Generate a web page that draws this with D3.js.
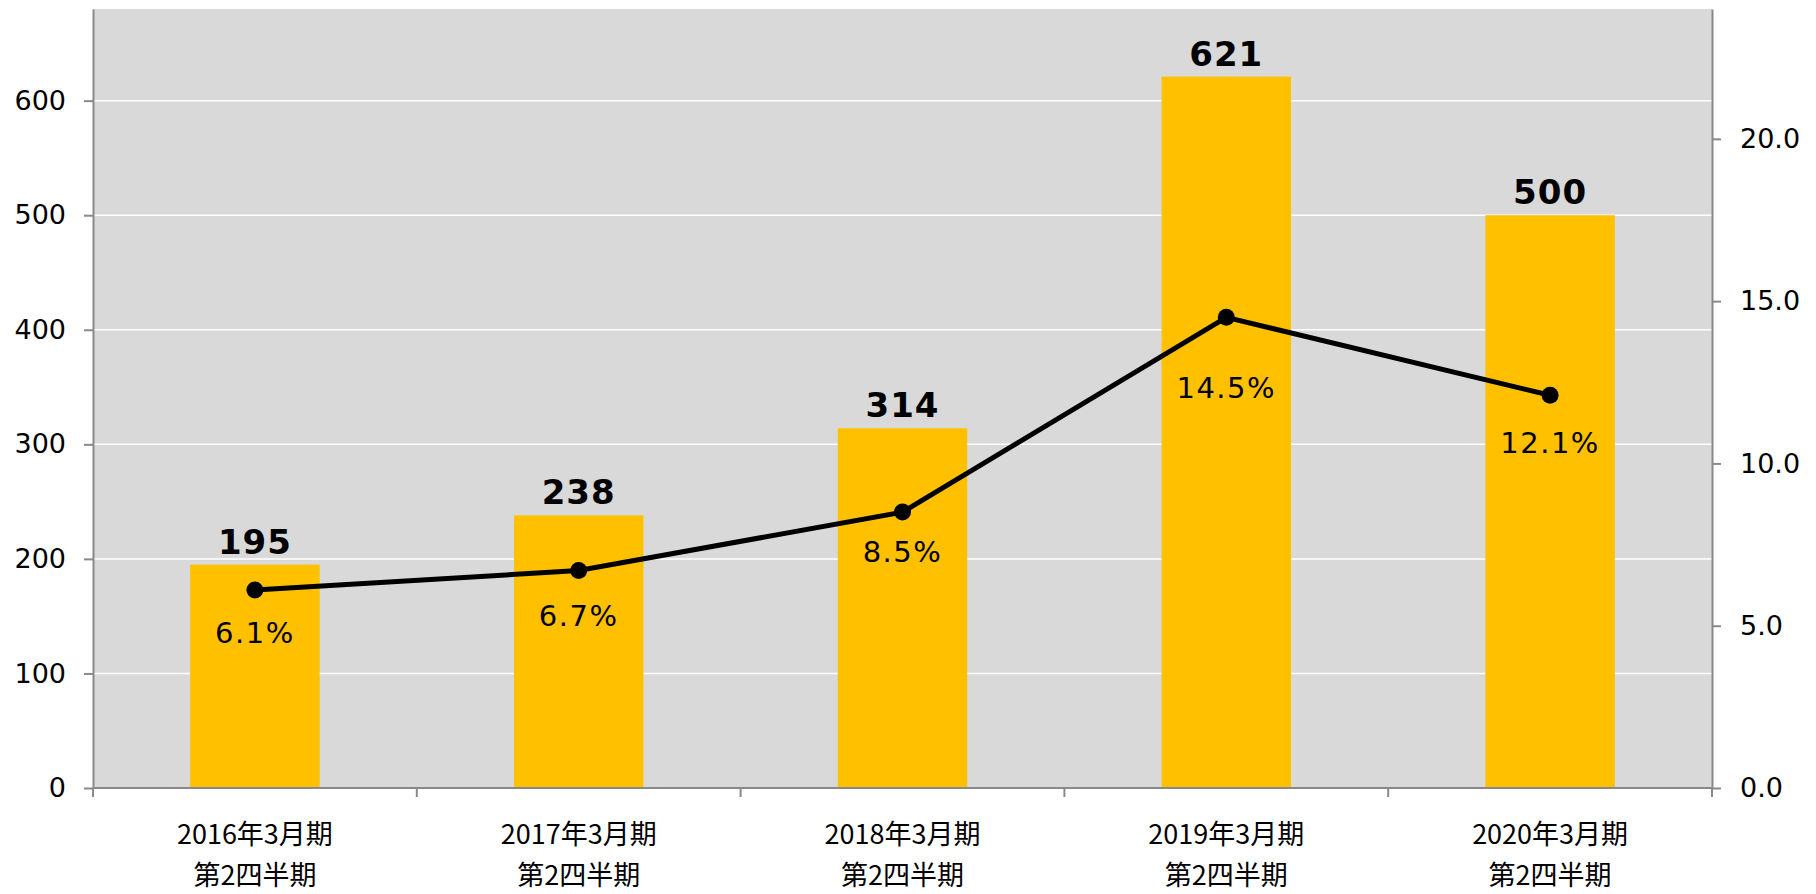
<!DOCTYPE html>
<html><head><meta charset="utf-8">
<script src="https://cdn.jsdelivr.net/npm/d3@7"></script>
<style>html,body{margin:0;padding:0;background:#fff;}svg{display:block;}</style>
</head><body>
<script>
// ---- data ----
const categoriesLine1 = ["2016年3月期", "2017年3月期", "2018年3月期", "2019年3月期", "2020年3月期"];
const categoriesLine2 = ["第2四半期", "第2四半期", "第2四半期", "第2四半期", "第2四半期"];
const barValues = [195, 238, 314, 621, 500];
const ratioValues = [6.1, 6.7, 8.5, 14.5, 12.1];
const leftTicks = [0, 100, 200, 300, 400, 500, 600];
const rightTicks = [0, 5, 10, 15, 20];

// ---- layout ----
const W = 1816, H = 894;
const plot = {left: 93, right: 1712, top: 9, bottom: 788};
const pctLabelDy = [43, 45, 39, 70, 47];

const svg = d3.select("body").append("svg").attr("width", W).attr("height", H);
svg.append("rect").attr("width", W).attr("height", H).attr("fill", "#fff");

const x = d3.scaleBand().domain(d3.range(categoriesLine1.length))
  .range([plot.left, plot.right]).paddingInner(0.6).paddingOuter(0.3);
const yL = d3.scaleLinear().domain([0, 680]).range([plot.bottom, plot.top]);
const yR = d3.scaleLinear().domain([0, 24]).range([plot.bottom, plot.top]);

// background
svg.append("rect").attr("x", plot.left).attr("y", plot.top)
  .attr("width", plot.right - plot.left).attr("height", plot.bottom - plot.top)
  .attr("fill", "#d9d9d9");

// gridlines
svg.append("g").selectAll("line").data(leftTicks.filter(d => d > 0)).join("line")
  .attr("x1", plot.left).attr("x2", plot.right)
  .attr("y1", d => yL(d)).attr("y2", d => yL(d))
  .attr("stroke", "#fff").attr("stroke-width", 1.5);

// bars
svg.append("g").selectAll("rect").data(barValues).join("rect")
  .attr("x", (d, i) => x(i)).attr("width", x.bandwidth())
  .attr("y", d => yL(d)).attr("height", d => yL(0) - yL(d))
  .attr("fill", "#ffc000");

// axes
const axisColor = "#898989";
const fontLatin = "DejaVu Sans, Verdana, sans-serif";

const gL = svg.append("g").attr("transform", `translate(${plot.left},0)`)
  .call(d3.axisLeft(yL).tickValues(leftTicks).tickSize(9).tickPadding(18).tickSizeOuter(0));
const gR = svg.append("g").attr("transform", `translate(${plot.right},0)`)
  .call(d3.axisRight(yR).tickValues(rightTicks).tickSize(9).tickPadding(19).tickSizeOuter(0)
    .tickFormat(d3.format(".1f")));
[gL, gR].forEach(g => {
  g.select(".domain").attr("stroke", axisColor).attr("stroke-width", 2);
  g.selectAll(".tick line").attr("stroke", axisColor).attr("stroke-width", 2);
  g.selectAll(".tick text").attr("fill", "#000").attr("font-size", 27)
    .attr("font-family", fontLatin);
});

// bottom axis
const step = x.step();
const bounds = d3.range(categoriesLine1.length + 1).map(i => x(0) - step * x.paddingInner() / 2 + i * step);
svg.append("line").attr("x1", plot.left).attr("x2", plot.right)
  .attr("y1", plot.bottom).attr("y2", plot.bottom)
  .attr("stroke", axisColor).attr("stroke-width", 2);
svg.append("g").selectAll("line").data(bounds).join("line")
  .attr("x1", d => d).attr("x2", d => d)
  .attr("y1", plot.bottom).attr("y2", plot.bottom + 9)
  .attr("stroke", axisColor).attr("stroke-width", 2);

const cat = svg.append("g").attr("font-family", "Noto Sans CJK JP, sans-serif")
  .attr("font-size", 27).attr("text-anchor", "middle").attr("fill", "#000");
cat.selectAll("text.l1").data(categoriesLine1).join("text").attr("class", "l1")
  .attr("x", (d, i) => x(i) + x.bandwidth() / 2).attr("y", 844).text(d => d);
cat.selectAll("text.l2").data(categoriesLine2).join("text").attr("class", "l2")
  .attr("x", (d, i) => x(i) + x.bandwidth() / 2).attr("y", 885).text(d => d);

// bar value labels
svg.append("g").selectAll("text").data(barValues).join("text")
  .attr("x", (d, i) => x(i) + x.bandwidth() / 2).attr("y", d => yL(d) - 11)
  .attr("text-anchor", "middle").attr("font-family", fontLatin)
  .attr("font-weight", "bold").attr("font-size", 34).attr("letter-spacing", 1)
  .attr("fill", "#000")
  .text(d => d);

// line
const cx = i => x(i) + x.bandwidth() / 2;
svg.append("path").datum(ratioValues)
  .attr("d", d3.line().x((d, i) => cx(i)).y(d => yR(d)))
  .attr("fill", "none").attr("stroke", "#000").attr("stroke-width", 5);
svg.append("g").selectAll("circle").data(ratioValues).join("circle")
  .attr("cx", (d, i) => cx(i)).attr("cy", d => yR(d)).attr("r", 8.5).attr("fill", "#000");

svg.append("g").selectAll("text").data(ratioValues).join("text")
  .attr("x", (d, i) => cx(i)).attr("y", (d, i) => yR(d) + pctLabelDy[i])
  .attr("dy", "0.36em")
  .attr("text-anchor", "middle").attr("font-family", fontLatin)
  .attr("font-size", 29).attr("letter-spacing", 1.5).attr("fill", "#000")
  .text(d => d.toFixed(1) + "%");
</script>
</body></html>
